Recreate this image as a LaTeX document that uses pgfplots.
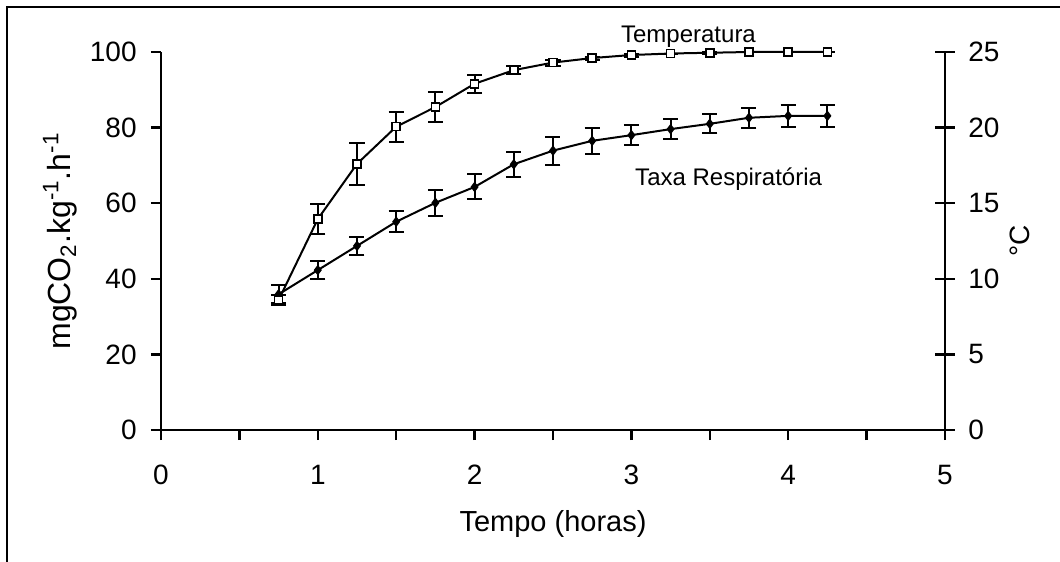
\documentclass[border=0pt]{standalone}
\usepackage{fontspec}
\setmainfont{Liberation Sans}
\usepackage{pgfplots}
\usepackage{pgfplotstable}
\pgfplotsset{compat=1.18}

\pgfplotstableread{
x y e
0.75 35.9 2.4
1.00 42.3 2.4
1.25 48.7 2.3
1.50 55.1 2.8
1.75 60.1 3.4
2.00 64.3 3.3
2.25 70.3 3.3
2.50 73.9 3.7
2.75 76.5 3.4
3.00 78.0 2.6
3.25 79.6 2.6
3.50 81.0 2.5
3.75 82.6 2.6
4.00 83.1 2.9
4.25 83.1 2.9
}\resp

\pgfplotstableread{
x y e
0.75 8.6 0.3
1.00 13.95 1.0
1.25 17.6 1.4
1.50 20.06 1.0
1.75 21.36 1.0
2.00 22.9 0.6
2.25 23.8 0.25
2.50 24.3 0.2
2.75 24.6 0.1
3.00 24.8 0.1
3.25 24.9 0.0
3.50 24.95 0.05
3.75 25.0 0.0
4.00 25.0 0.0
4.25 25.0 0.0
}\temp

\begin{document}
\begin{tikzpicture}
\useasboundingbox (-80.5bp,-66bp) rectangle (449.5bp,215bp);
\draw[line width=1.2bp] (-77bp,-70bp) -- (-77bp,211.5bp) -- (452bp,211.5bp);
\begin{axis}[
  at={(0,0)}, anchor=south west,
  scale only axis, width=392bp, height=189bp,
  xmin=0, xmax=5, ymin=0, ymax=100,
  axis x line*=bottom, axis y line*=left,
  xtick={0,1,2,3,4,5}, minor xtick={0.5,1.5,2.5,3.5,4.5},
  ytick={0,20,40,60,80,100},
  tick align=outside,
  major tick length=5bp, minor tick length=5bp,
  every tick/.style={line width=1.2bp, black},
  axis line style={line width=1.2bp},
  /pgf/number format/assume math mode=true,
  tick label style={font=\fontsize{14bp}{16bp}\selectfont, inner sep=0pt},
  xticklabel style={anchor=north, yshift=-12.5bp},
  yticklabel style={anchor=east, xshift=-7bp},
  xlabel={Tempo (horas)},
  xlabel style={font=\fontsize{14.5bp}{17bp}\selectfont, at={(axis description cs:0.5,0)}, anchor=base, yshift=-50.8bp, inner sep=0pt},
  ylabel={mgCO\textsubscript{2}.kg\textsuperscript{-1}.h\textsuperscript{-1}},
  ylabel style={font=\fontsize{16bp}{18bp}\selectfont, at={(axis description cs:-0.1148,0.5)}, anchor=base, inner sep=0pt},
  clip=false,
]
\addplot[black, line width=1bp, mark=diamond*, mark size=2.2bp,
  mark options={solid, fill=black, line width=0.6bp},
  error bars/.cd, y dir=both, y explicit,
  error bar style={line width=1bp, black},
  error mark options={rotate=90, line width=1bp, mark size=3.75bp, black}]
  table[x=x, y=y, y error=e]{\resp};
\node[font=\fontsize{12bp}{14bp}\selectfont, anchor=base] at (axis cs:3.364,102.4) {Temperatura};
\node[font=\fontsize{12bp}{14bp}\selectfont, anchor=base] at (axis cs:3.62,64.8) {Taxa Respiratória};
\end{axis}
\begin{axis}[
  at={(0,0)}, anchor=south west,
  scale only axis, width=392bp, height=189bp,
  xmin=0, xmax=5, ymin=0, ymax=25,
  axis x line=none, axis y line*=right,
  ytick={0,5,10,15,20,25},
  tick align=center,
  major tick length=10bp,
  every tick/.style={line width=1.2bp, black},
  axis line style={line width=1.2bp},
  /pgf/number format/assume math mode=true,
  tick label style={font=\fontsize{14bp}{16bp}\selectfont, inner sep=0pt},
  yticklabel style={anchor=west, xshift=6.5bp},
  ylabel={°C},
  ylabel style={font=\fontsize{14bp}{16bp}\selectfont, at={(axis description cs:1.1084,0.5)}, anchor=base, inner sep=0pt},
  clip=false,
]
\addplot[black, line width=1bp, mark=square*, mark size=2bp,
  mark options={solid, fill=white, line width=0.8bp},
  error bars/.cd, y dir=both, y explicit,
  error bar style={line width=1bp, black},
  error mark options={rotate=90, line width=1bp, mark size=3.75bp, black}]
  table[x=x, y=y, y error=e]{\temp};
\end{axis}
\end{tikzpicture}
\end{document}
